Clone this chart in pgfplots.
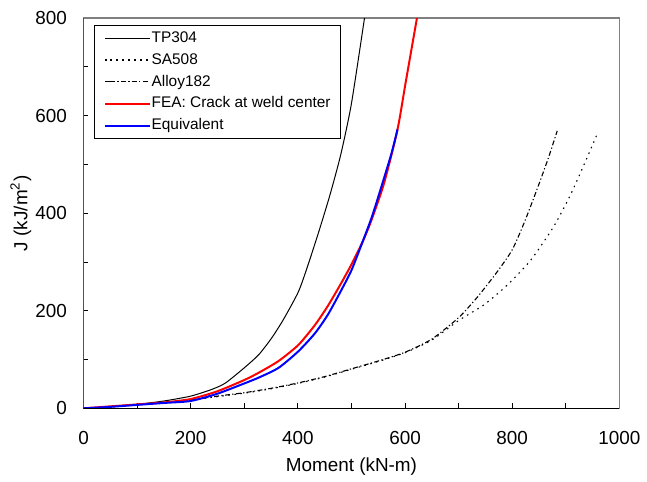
\documentclass[border=0pt]{standalone}
\usepackage{fontspec}
\setmainfont{Liberation Sans}
\usepackage{pgfplots}
\pgfplotsset{compat=1.18}
\begin{document}
\begin{tikzpicture}
\begin{axis}[
  name=ax, at={(0,0)}, anchor=south west,
  scale only axis, width=269.5pt, height=196.2pt,
  xmin=0, xmax=1000, ymin=0, ymax=800,
  xtick={0,200,...,1000}, minor xtick={100,300,...,900},
  ytick={0,200,...,800}, minor ytick={100,300,...,700},
  tick align=inside, tick pos=left,
  major tick length=2.5pt, minor tick length=2.5pt,
  tick style={black, line width=0.5pt},
  axis line style={draw=gray, line width=0.8pt},
  tick label style={font=\fontsize{9.5}{11}\selectfont},
  /pgf/number format/assume math mode=true,
  /pgf/number format/1000 sep={},
  xticklabel style={yshift=-8pt},
  yticklabel style={xshift=-4.8pt},
  xlabel={Moment (kN-m)}, ylabel={J (kJ/m\textsuperscript{2})},
  label style={font=\fontsize{9.5}{11}\selectfont},
  x label style={at={(axis description cs:0.5,-0.149)}, anchor=center},
  y label style={at={(axis description cs:-0.1169,0.5)}, anchor=center},
  legend cell align=left,
  legend image code/.code={\path (0pt,0pt)--(2.5pt,0pt); \draw[#1] (2.5pt,0pt)--(22.5pt,0pt);},
  legend style={at={(axis description cs:0.0204,0.9829)}, anchor=north west,
    draw=black, line width=0.5pt, font=\fontsize{7.75}{9}\selectfont,
    inner xsep=4.6pt, inner ysep=1.5pt, row sep=1.2pt,
    nodes={inner ysep=1.2pt, inner xsep=0.4pt, text height=5.8pt, text depth=1.6pt}},
]
\addplot[black, line width=0.5pt, smooth, tension=0.4] coordinates {
(0,0) (50,3) (100,8) (150,15) (200,25) (240,39) (265,52) (300,83) (327,110) (351,144) (373,182) (401,239) (419,294) (441,369) (460,438) (480,520) (500,625) (525,805)};
\addlegendentry{TP304}
\addplot[black, line width=0.55pt, dash pattern=on 0.75pt off 2.3pt, smooth, tension=0.4] coordinates {
(0,0) (50,3) (100,8) (150,12) (200,17) (250,24) (300,31) (350,40) (400,51) (450,64) (500,80) (550,96) (600,114) (650,140) (700,180) (747,212) (790,252) (834,303) (877,372) (908,436) (933,497) (960,566)};
\addlegendentry{SA508}
\addplot[black, line width=0.55pt, dash pattern=on 2.5pt off 1.2pt on 0.6pt off 1.2pt, smooth, tension=0.4] coordinates {
(0,0) (50,3) (100,8) (150,12) (200,17) (250,25) (300,32) (350,41) (400,52) (450,65) (500,81) (550,97) (600,115) (650,142) (700,186) (735,228) (772,280) (800,325) (824,385) (850,460) (868,515) (884,569)};
\addlegendentry{Alloy182}
\addplot[red, line width=1pt, smooth, tension=0.4] coordinates {
(0,0) (50,4) (100,8) (150,12) (200,19) (250,35) (300,58) (327,73) (364,97) (401,130) (432,171) (456,210) (480,255) (500,295) (521,342) (537,385) (561,462) (586,572) (601,667) (623,805)};
\addlegendentry{FEA: Crack at weld center}
\addplot[blue, line width=1pt, smooth, tension=0.4] coordinates {
(0,0) (50,3) (100,7) (150,11) (200,15) (250,30) (300,51) (327,63) (364,83) (401,117) (432,154) (456,192) (480,240) (500,283) (521,342) (537,389) (549,430) (574,520) (586,572)};
\addlegendentry{Equivalent}
\draw[black, line width=0.6pt] (rel axis cs:0,1) -- (rel axis cs:0,0) -- (rel axis cs:1,0);
\end{axis}
\path (-42pt,-36.15pt) rectangle (281.5pt,205.35pt);
\end{tikzpicture}
\end{document}
